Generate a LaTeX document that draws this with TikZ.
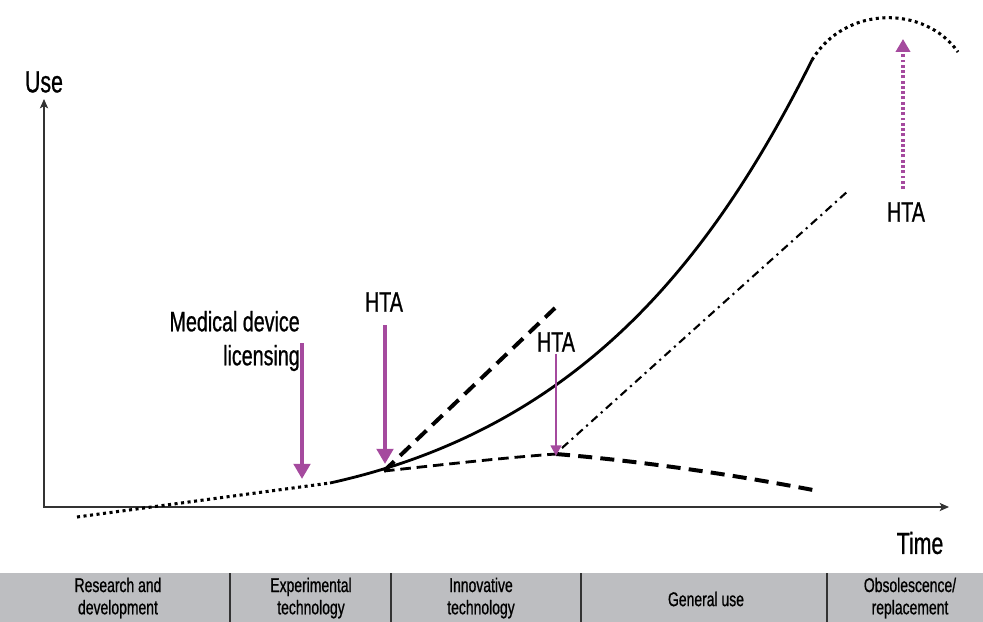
\documentclass[tikz,border=0pt]{standalone}
\usepackage{fontspec}
\setmainfont{Liberation Sans}[FakeStretch=0.7,FakeBold=0.8]
\usetikzlibrary{arrows.meta,positioning}

\definecolor{htapurple}{HTML}{A54A9E}
\definecolor{bandgrey}{HTML}{BDBEC1}
\definecolor{axisgrey}{HTML}{333333}

\begin{document}
\begin{tikzpicture}[x=0.03cm, y=-0.03cm,
		axis/.style   = {draw=axisgrey, line width=1.3pt, {Stealth[length=8pt,width=7pt,inset=2pt]}-{Stealth[length=8pt,width=7pt,inset=2pt]}},
		label/.style  = {font=\fontsize{24}{29}\selectfont, inner sep=0pt},
		big label/.style = {font=\fontsize{26}{30}\selectfont, inner sep=0pt},
		phase/.style  = {font=\fontsize{17}{19}\selectfont, align=center, inner sep=0pt},
		divider/.style = {draw=axisgrey, line width=1.2pt},
		hta/.style    = {draw=htapurple, line width=4pt, -{Triangle[width=14pt,length=13pt]}},
		hta thin/.style = {draw=htapurple, line width=2pt, -{Triangle[width=9pt,length=9pt]}},
		hta dotted/.style = {draw=htapurple, line width=4pt, dash pattern=on 2.5pt off 2pt, -{Triangle[width=12pt,length=11pt]}},
		uptake/.style = {line width=2.4pt},
		dotted trend/.style = {line width=2.6pt, dash pattern=on 2.6pt off 3pt},
		steep/.style  = {line width=3.4pt, dash pattern=on 12pt off 7pt},
		flat/.style   = {line width=2.4pt, dash pattern=on 9pt off 5pt},
		decline/.style = {line width=3.4pt, dash pattern=on 12pt off 7pt},
		alternative/.style = {line width=1.8pt, dash pattern=on 7pt off 4pt on 1.8pt off 4pt}]
	
	\useasboundingbox (0,0) rectangle (983,622);
	
	% phases along the bottom
	\fill[bandgrey] (0,573) rectangle (983,622);
	\foreach \x in {230,391,581,827}
	\draw[divider] (\x,573) -- (\x,622);
	
	\node[phase] (rnd) at (118,598) {Research and\\development};
	\node[phase] (exp) at (311,598) {Experimental\\technology};
	\node[phase] (inn) at (481,598) {Innovative\\technology};
	\node[phase] (gen) at (706,599) {General use};
	\node[phase] (obs) at (910,598) {Obsolescence/\\replacement};
	
	% axes
	\coordinate (origin) at (44,507);
	\coordinate (ytip) at (44,99);
	\coordinate (xtip) at (949,507);
	\draw[axis] (ytip) |- (xtip);
	\node[big label] (use) at (44,82) {Use};
	\node[big label] (time) at (920,543) {Time};
	
	% points on the curves
	\coordinate (start) at (77,517);
	\coordinate (licensed) at (330,483);
	\coordinate (split) at (384,471);
	\coordinate (peak) at (812,60);
	\coordinate (end) at (958,52);
	\coordinate (fast) at (555,308);
	\coordinate (turn) at (556,454);
	\coordinate (fall) at (813,490);
	\coordinate (alt start) at (562,448);
	\coordinate (alt end) at (848,191);
	
	% use curves
	\draw[dotted trend] (start) -- (licensed);
	\draw[uptake] (licensed) .. controls (580,428) and (712,260) .. (peak);
	\draw[dotted trend] (peak) .. controls (845,5) and (925,5) .. (end);
	\draw[steep] (split) -- (fast);
	\draw[flat] (split) .. controls (440,465) and (500,458) .. (turn);
	\draw[decline] (turn) .. controls (650,462) and (740,476) .. (fall);
	\draw[alternative] (alt start) -- (alt end);
	
	% assessment points
	\node[label, align=right, anchor=east] (licensing) at (300,341) {Medical device\\licensing};
	\node[label] (hta1) at (384,302) {HTA};
	\node[label] (hta2) at (556,342) {HTA};
	\node[label] (hta3) at (906,212) {HTA};
	
	\coordinate (lic top) at (302,343);
	\coordinate (lic tip) at (302,479);
	\coordinate (hta1 top) at (385,325);
	\coordinate (hta1 tip) at (385,464);
	\coordinate (hta2 top) at (556,354);
	\coordinate (hta2 tip) at (556,456);
	\coordinate (hta3 foot) at (903,189);
	\coordinate (hta3 tip) at (903,39);
	
	\draw[hta] (lic top) -- (lic tip);
	\draw[hta] (hta1 top) -- (hta1 tip);
	\draw[hta thin] (hta2 top) -- (hta2 tip);
	\draw[hta dotted] (hta3 foot) -- (hta3 tip);
	
\end{tikzpicture}
\end{document}
